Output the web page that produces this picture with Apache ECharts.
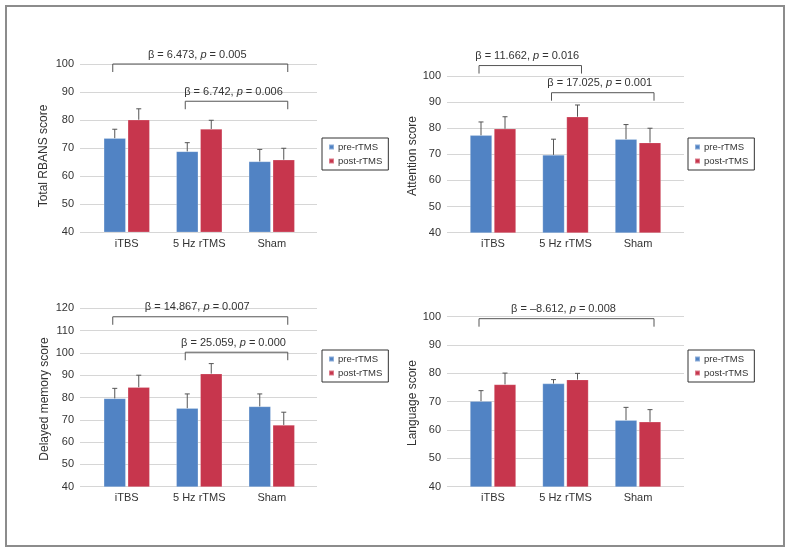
<!DOCTYPE html>
<html><head><meta charset="utf-8">
<script src="https://cdn.jsdelivr.net/npm/echarts@6/dist/echarts.min.js"></script>
<style>html,body{margin:0;padding:0;background:#fff}#c{width:791px;height:554px}</style>
</head><body><div id="c"></div>
<script>
// ---------- data ----------
const categories = ['iTBS', '5 Hz rTMS', 'Sham'];
const seriesNames = ['pre-rTMS', 'post-rTMS'];
const yTitles = ['Total RBANS score', 'Attention score', 'Delayed memory score', 'Language score'];
const yMins = [40, 40, 40, 40];
const yMaxs = [100, 100, 120, 100];
const yStep = 10;

const rbansPre = [73.5, 68.8, 65.2];
const rbansPreErr = [3.2, 3.1, 4.3];
const rbansPost = [80.1, 76.8, 65.8];
const rbansPostErr = [3.9, 3.1, 4.1];

const attentionPre = [77.3, 69.8, 75.8];
const attentionPreErr = [5.1, 6.0, 5.6];
const attentionPost = [79.8, 84.4, 74.5];
const attentionPostErr = [4.6, 4.5, 5.5];

const memoryPre = [79.6, 75.2, 76.0];
const memoryPreErr = [4.5, 6.4, 5.6];
const memoryPost = [84.6, 90.7, 67.7];
const memoryPostErr = [5.4, 4.5, 5.7];

const languagePre = [70.2, 76.4, 63.5];
const languagePreErr = [3.7, 1.4, 4.5];
const languagePost = [76.1, 77.8, 62.9];
const languagePostErr = [4.0, 2.2, 4.3];

// brackets: [fromCategory, toCategory, yValue, beta, p]
const rbansBrackets = [[0, 2, 100, '6.473', '0.005'], [1, 2, 86.7, '6.742', '0.006']];
const attentionBrackets = [[0, 1, 104, '11.662', '0.016'], [1, 2, 93.6, '17.025', '0.001']];
const memoryBrackets = [[0, 2, 116.2, '14.867', '0.007'], [1, 2, 100.3, '25.059', '0.000']];
const languageBrackets = [[0, 2, 99.3, '\u20138.612', '0.008']];

const panelsData = [
  { pre: rbansPre, preErr: rbansPreErr, post: rbansPost, postErr: rbansPostErr, br: rbansBrackets },
  { pre: attentionPre, preErr: attentionPreErr, post: attentionPost, postErr: attentionPostErr, br: attentionBrackets },
  { pre: memoryPre, preErr: memoryPreErr, post: memoryPost, postErr: memoryPostErr, br: memoryBrackets },
  { pre: languagePre, preErr: languagePreErr, post: languagePost, postErr: languagePostErr, br: languageBrackets }
];

// ---------- layout / style ----------
const FONT = '"Liberation Sans", Arial, Helvetica, sans-serif';
const TXT = '#333';
const COLORS = ['#5183C4', '#C7364D'];
const layout = [
  { gl: 80, gw: 237, bl: 90.5, bw: 217.5, top: 64, h: 168, nx: 44, ny: 156, lx: 322, ly: 138 },
  { gl: 447, gw: 237, bl: 456.75, bw: 217.5, top: 76, h: 156.7, nx: 413, ny: 156, lx: 688, ly: 138 },
  { gl: 80, gw: 237, bl: 90.5, bw: 217.5, top: 308.3, h: 178.4, nx: 45, ny: 399, lx: 322, ly: 350 },
  { gl: 447, gw: 237, bl: 456.75, bw: 217.5, top: 316.7, h: 170, nx: 413, ny: 403, lx: 688, ly: 350 }
];
const BAR_W = 22, HALF = 12;

const grid = [], xAxis = [], yAxis = [], series = [], legend = [], graphic = [];

layout.forEach((L, p) => {
  const d = panelsData[p];
  // grid A: gridlines + y labels
  grid.push({ left: L.gl, top: L.top, width: L.gw, height: L.h });
  // grid B: bars
  grid.push({ left: L.bl, top: L.top, width: L.bw, height: L.h });
  const gA = p * 2, gB = p * 2 + 1;
  xAxis.push({ gridIndex: gA, type: 'value', show: false, min: 0, max: 1 });
  xAxis.push({
    gridIndex: gB, type: 'category', data: categories,
    axisLine: { show: false }, axisTick: { show: false },
    axisLabel: { margin: 6, fontSize: 11, color: TXT, fontFamily: FONT }
  });
  yAxis.push({
    gridIndex: gA, type: 'value', min: yMins[p], max: yMaxs[p], interval: yStep,
    axisLine: { show: false }, axisTick: { show: false },
    splitLine: { lineStyle: { color: '#d6d6d6', width: 1 } },
    axisLabel: { margin: 6, fontSize: 11, color: TXT, fontFamily: FONT }
  });
  yAxis.push({ gridIndex: gB, type: 'value', min: yMins[p], max: yMaxs[p], interval: yStep, show: false, splitLine: { show: false } });

  const xi = p * 2 + 1, yi = p * 2 + 1;
  const vals = [d.pre, d.post], errs = [d.preErr, d.postErr];
  seriesNames.forEach((nm, s) => {
    series.push({
      name: nm, type: 'bar', xAxisIndex: xi, yAxisIndex: yi,
      data: vals[s], barWidth: BAR_W, barGap: '9%',
      itemStyle: { color: COLORS[s], borderColor: 'rgba(255,255,255,0.35)', borderWidth: 0.6 },
      silent: true, z: 2
    });
    series.push({
      type: 'custom', xAxisIndex: xi, yAxisIndex: yi, silent: true, z: 3, clip: false,
      data: vals[s].map((v, i) => [i, v, v + errs[s][i]]),
      renderItem: (params, api) => {
        const a = api.coord([api.value(0), api.value(1)]);
        const b = api.coord([api.value(0), api.value(2)]);
        const x = a[0] + (s === 0 ? -HALF : HALF);
        return {
          type: 'group', children: [
            { type: 'line', shape: { x1: x, y1: a[1], x2: x, y2: b[1] }, style: { stroke: '#555', lineWidth: 1 } },
            { type: 'line', shape: { x1: x - 2.5, y1: b[1], x2: x + 2.5, y2: b[1] }, style: { stroke: '#555', lineWidth: 1 } }
          ]
        };
      }
    });
  });
  // brackets
  series.push({
    type: 'custom', xAxisIndex: xi, yAxisIndex: yi, silent: true, z: 4, clip: false,
    data: d.br.map(b => [b[0], b[2], b[1]]),
    renderItem: (params, api) => {
      const b = d.br[params.dataIndex];
      const a = api.coord([b[0], b[2]]);
      const c = api.coord([b[1], b[2]]);
      const x1 = a[0] - 14, x2 = c[0] + 16, y = a[1];
      return {
        type: 'group', children: [
          { type: 'polyline', shape: { points: [[x1, y + 8], [x1, y], [x2, y], [x2, y + 8]] },
            style: { stroke: '#555', lineWidth: 1, fill: null } },
          { type: 'text', x: (x1 + x2) / 2 - 3, y: y - 9.5,
            style: {
              text: '{n|\u03b2 = ' + b[3] + ', }{i|p}{n| = ' + b[4] + '}',
              align: 'center', verticalAlign: 'middle',
              rich: {
                n: { fontSize: 11, fontFamily: FONT, fill: TXT, color: TXT },
                i: { fontSize: 11, fontFamily: FONT, fontStyle: 'italic', fill: TXT, color: TXT }
              }
            } }
        ]
      };
    }
  });
  legend.push({
    data: seriesNames, orient: 'vertical', left: L.lx, top: L.ly,
    icon: 'rect', itemWidth: 5, itemHeight: 5, itemGap: 4,
    padding: [4, 6, 4, 6], borderColor: '#333', borderWidth: 1,
    textStyle: { fontSize: 9.5, color: TXT, fontFamily: FONT, padding: [0, 0, 0, -1] },
    selectedMode: false
  });
  graphic.push({
    type: 'text', x: L.nx, y: L.ny, rotation: Math.PI / 2,
    style: { text: yTitles[p], fontSize: 12, fontFamily: FONT, fill: TXT, align: 'center', verticalAlign: 'middle' },
    silent: true
  });
});

graphic.push({
  type: 'rect', shape: { x: 6, y: 6, width: 778, height: 540 },
  style: { fill: null, stroke: '#8c8c8c', lineWidth: 2 }, silent: true
});

const chart = echarts.init(document.getElementById('c'), null, { renderer: 'canvas' });
chart.setOption({
  animation: false,
  backgroundColor: '#fff',
  grid, xAxis, yAxis, series, legend, graphic
});
</script></body></html>
